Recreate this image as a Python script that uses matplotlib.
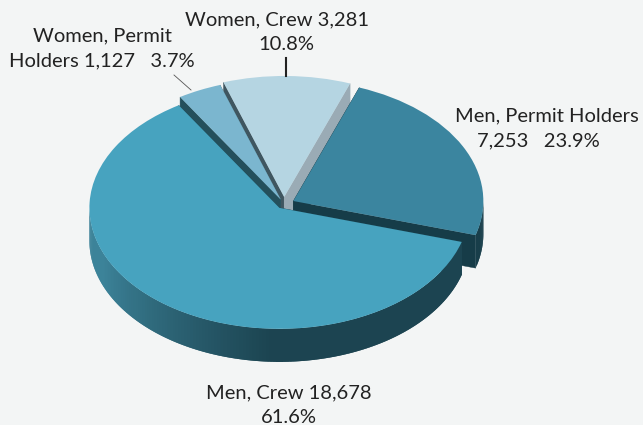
import numpy as np
import matplotlib
matplotlib.use("Agg")
import matplotlib.pyplot as plt
from matplotlib.colors import to_rgb
from matplotlib.lines import Line2D

# data
categories = ["Men, Crew", "Men, Permit Holders", "Women, Crew", "Women, Permit Holders"]
values = [18678, 7253, 3281, 1127]
percent_labels = ["61.6%", "23.9%", "10.8%", "3.7%"]

# style
W, H = 643, 425
BG = "#f3f5f5"
top_colors = ["#47a3bf", "#3b859f", "#b5d5e2", "#7bb6cf"]
explode = [0.04, 0.055, 0.058, 0.04]
# (face at theta1, face at theta2, outer wall) per slice
face_colors = [("#1d4a58", "#1d4a58", None),
               ("#163c48", "#163c48", "#183e4a"),
               ("#9aabb5", "#3f5660", "#8fa5b0"),
               ("#55808f", "#24505c", "#24505c")]
zorders = [40, 30, 10, 20]
RX, RY = 190.0, 121.0   # pixel size of the pie's unit radius
CX, CY = 284.0, 204.0   # pixel position of the pie's centre
DEPTH = 33.0 / RY
START = 122.0

plt.rcParams["font.family"] = ["Lato", "DejaVu Sans"]
fig = plt.figure(figsize=(W / 100, H / 100), dpi=100, facecolor=BG)
ax = fig.add_axes([0, 0, 1, 1])
wedges, _ = ax.pie(values, explode=explode, startangle=START, counterclock=True,
                   colors=top_colors, radius=1.0,
                   wedgeprops=dict(linewidth=0))
ax.set_aspect("auto")
ax.set_xlim(-CX / RX, (W - CX) / RX)
ax.set_ylim((CY - H) / RY, CY / RY)
ax.axis("off")


def wall_color(deg):
    """Shade of the big slice's outer wall, dark towards the lower right."""
    light = np.array(to_rgb("#3c8399"))
    dark = np.array(to_rgb("#1c4451"))
    a = (deg % 360 - 180.0) / 90.0   # 0 at the left, 1 at the bottom
    t = np.clip((a - 0.25) / 0.72, 0, 1)
    return tuple(light + (dark - light) * t)


for i, w in enumerate(wedges):
    z = zorders[i]
    w.set_zorder(z + 3)
    cx, cy = w.center
    t1, t2 = w.theta1, w.theta2
    fc1, fc2, wall = face_colors[i]
    # radial cut faces
    for ang, col in ((t1, fc1), (t2, fc2)):
        px = cx + w.r * np.cos(np.radians(ang))
        py = cy + w.r * np.sin(np.radians(ang))
        ax.fill([cx, px, px, cx], [cy, py, py - DEPTH, cy - DEPTH],
                color=col, lw=0.3, zorder=z + (1 if ang == t1 and i == 2 else 0))
    # outer wall, only the part facing the viewer, as overlapping strips
    angles = np.arange(t1, t2 + 1.0, 1.0)
    for a0 in angles[:-1]:
        if np.sin(np.radians(a0 + 0.5)) > 0:
            continue
        a1 = min(a0 + 2.0, t2)
        xs = cx + w.r * np.cos(np.radians([a0, a1, a1, a0]))
        ys = cy + w.r * np.sin(np.radians([a0, a1, a1, a0]))
        ys = ys - np.array([0, 0, DEPTH, DEPTH])
        col = wall if wall is not None else wall_color(a0 + 0.5)
        ax.fill(xs, ys, color=col, lw=0, zorder=z + 2)


def label(x, y, s):
    fig.text(x / W, 1 - y / H, s, ha="center", va="baseline", fontsize=14.5,
             color="#222222")


label(277, 25, "Women, Crew 3,281")
label(286, 50, percent_labels[2])
label(102, 41, "Women, Permit")
label(102, 66, f"Holders 1,127   {percent_labels[3]}")
label(547, 121, "Men, Permit Holders")
label(538, 146, f"7,253   {percent_labels[1]}")
label(289, 398, "Men, Crew 18,678")
label(289, 423, percent_labels[0])

fig.add_artist(Line2D([286 / W, 286 / W], [1 - 58 / H, 1 - 76 / H],
                      color="#222222", lw=1.5))
fig.add_artist(Line2D([174 / W, 191 / W], [1 - 75 / H, 1 - 90 / H],
                      color="#555555", lw=0.6))

fig.savefig("out.png", dpi=100, facecolor=BG)
